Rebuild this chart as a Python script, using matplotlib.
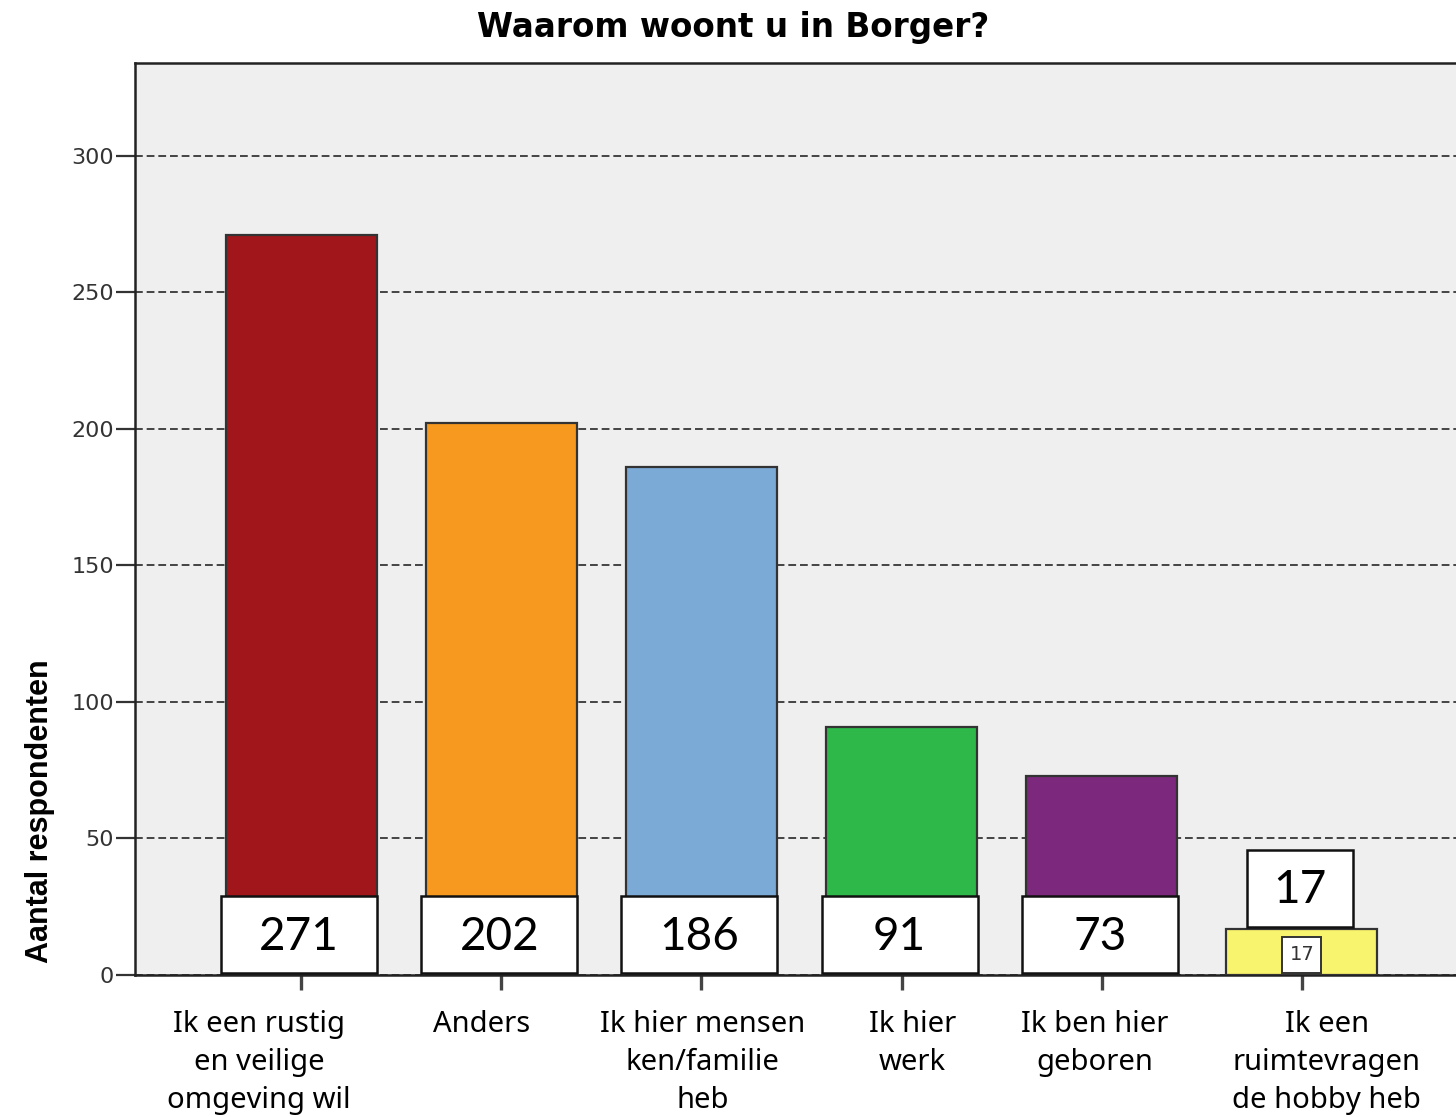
import matplotlib
matplotlib.use("Agg")
import matplotlib.pyplot as plt
from matplotlib.patches import Rectangle

categories = ["Ik een rustig\nen veilige\nomgeving wil", "Anders", "Ik hier mensen\nken/familie\nheb",
              "Ik hier\nwerk", "Ik ben hier\ngeboren", "Ik een\nruimtevragen\nde hobby heb"]
values = [271, 202, 186, 91, 73, 17]
colors = ["#A1161A", "#F7991E", "#7BAAD6", "#2EB84A", "#7B287D", "#F9F46E"]
yticks = [0, 50, 100, 150, 200, 250, 300]
title = "Waarom woont u in Borger?"
ylabel = "Aantal respondenten"

# label x offsets (data units) for the category texts
label_dx = [-0.21, -0.10, 0.005, 0.055, -0.035, 0.125]

W, H = 1456, 1117
fig = plt.figure(figsize=(W / 100, H / 100), dpi=100)
fig.patch.set_facecolor("white")
ax = fig.add_axes([135 / W, 1 - 975 / H, (1470 - 135) / W, (975 - 63) / H])
ax.set_facecolor("#EFEFEF")
ax.set_xlim(-0.83, 5.84)
ax.set_ylim(0, 334)

x = list(range(len(values)))
ax.set_axisbelow(True)
ax.yaxis.grid(True, linestyle=(0, (4, 2)), color="#444444", linewidth=1.4)
ax.bar(x, values, width=0.755, color=colors, edgecolor="#333333", linewidth=1.6, zorder=3)

for s in ["top", "left", "bottom"]:
    ax.spines[s].set_color("#222222")
    ax.spines[s].set_linewidth(1.8)
ax.spines["right"].set_visible(False)

ax.set_yticks(yticks)
ax.set_yticklabels([str(t) for t in yticks], fontsize=16, color="#333333", family="DejaVu Sans")
ax.tick_params(axis="y", direction="out", length=14, width=1.6, color="#333333", pad=1)
ax.set_xticks(x)
ax.set_xticklabels([""] * len(x))
ax.tick_params(axis="x", direction="out", length=11, width=2.4, color="#444444")

for i, c in enumerate(categories):
    ax.text(i + label_dx[i], -13.0, c, ha="center", va="top", fontsize=21, family="Noto Sans",
            linespacing=1.39, color="black")

# value boxes
for i, v in enumerate(values):
    if v >= 50:
        bw, bh, y0 = 0.78, 28.3, 0.7
    else:
        bw, bh, y0 = 0.53, 28.3, v + 0.6
    ax.add_patch(Rectangle((i - bw / 2 - 0.01, y0), bw, bh, facecolor="white", edgecolor="#111111",
                           linewidth=1.8, zorder=5))
    ax.text(i - 0.01, y0 + bh / 2 - 0.8, str(v), ha="center", va="center", fontsize=33,
            family="Lato", color="black", zorder=6)
    if v < 50:
        sw, sh = 0.195, 13.0
        ax.add_patch(Rectangle((i - sw / 2, 0.9), sw, sh, facecolor="white", edgecolor="#333333",
                               linewidth=1.4, zorder=5))
        ax.text(i, 0.9 + sh / 2, str(v), ha="center", va="center", fontsize=14,
                family="DejaVu Sans", color="#333333", zorder=6)

ax.set_ylabel(ylabel, fontsize=22, fontweight="bold", family="Liberation Sans")
ax.yaxis.set_label_coords(-80 / (1470 - 135), 0.18)

fig.text(733 / W, 1 - 28 / H, title, ha="center", va="center", fontsize=23.5, fontweight="bold",
         family="DejaVu Sans")

fig.savefig("out.png", dpi=100)
